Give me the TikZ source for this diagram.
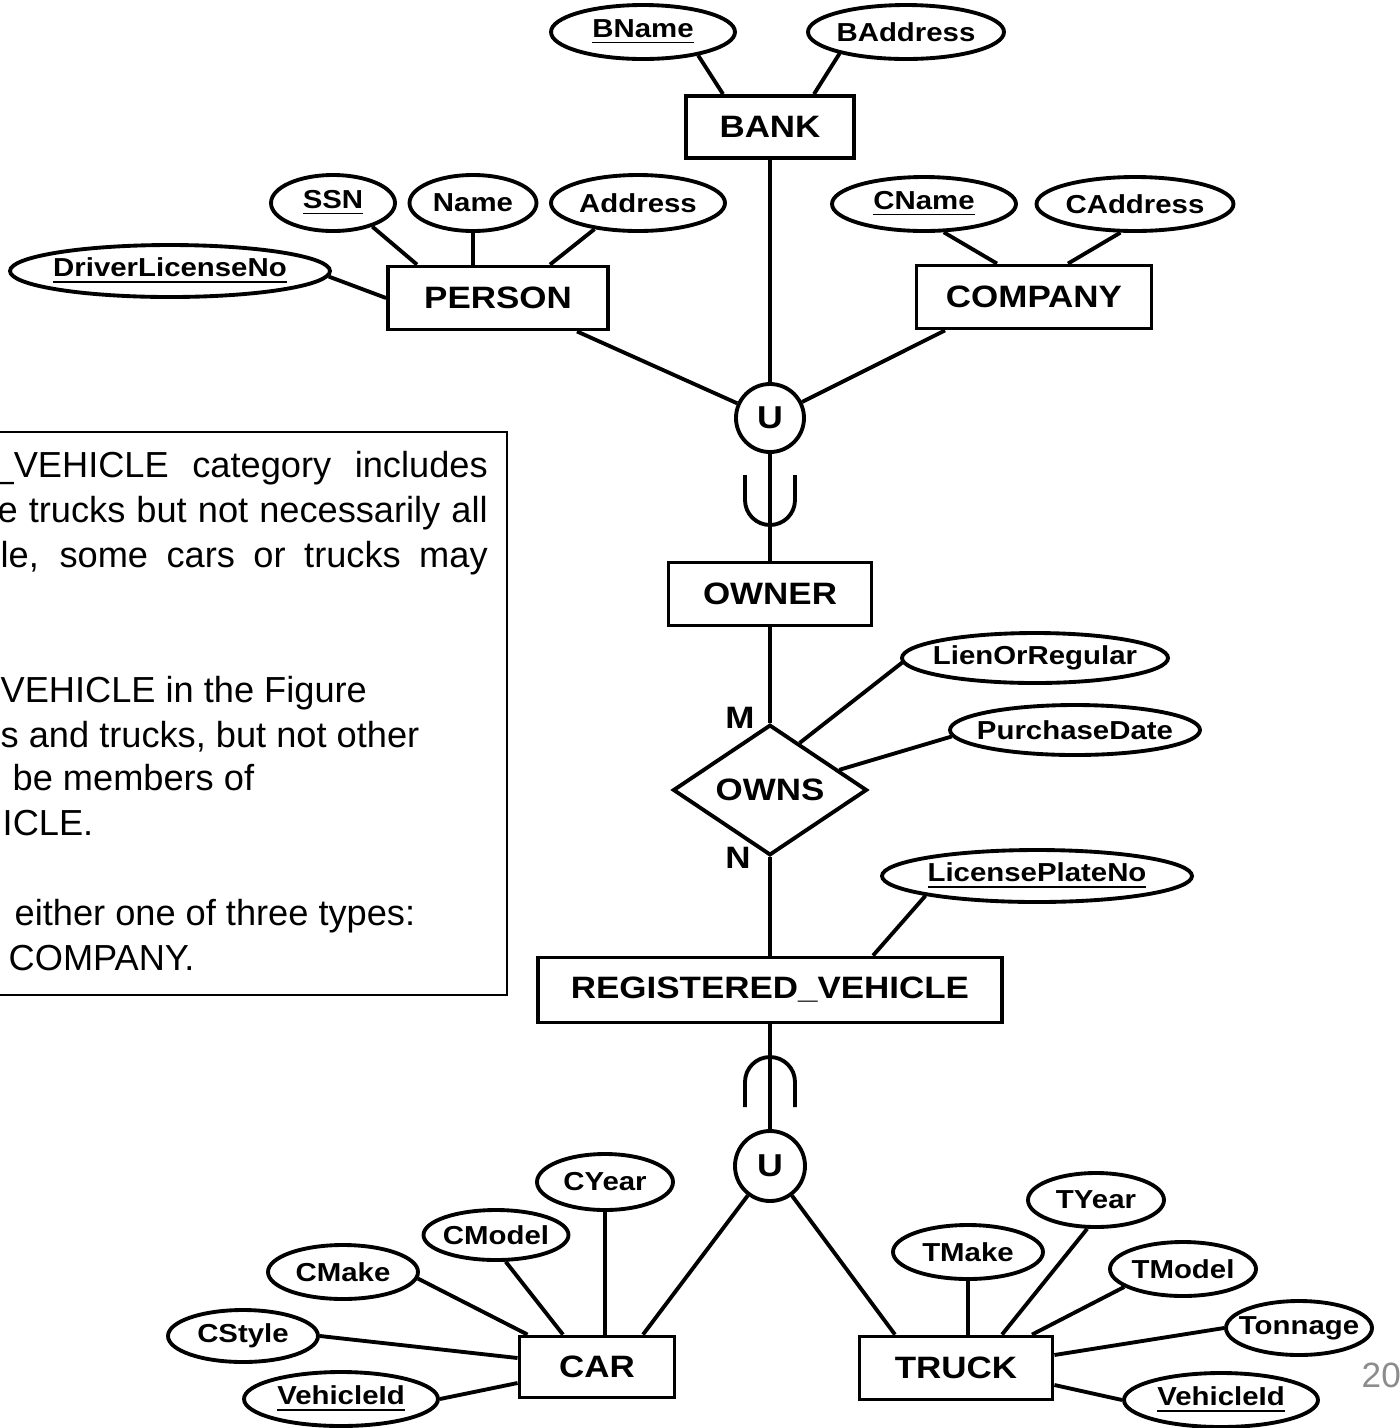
\documentclass[tikz,border=0pt]{standalone}
\usepackage{fontspec}
\setmainfont{Liberation Sans}
\newfontfamily\erfont[FakeStretch=1.13]{Liberation Sans}
\usetikzlibrary{shapes.geometric, calc}

\begin{document}
\begin{tikzpicture}[
    entity/.style = {draw, rectangle, line width = 1.1pt, inner sep = 0pt, font = \erfont\bfseries\fontsize{8.8}{10}\selectfont},
    attrib/.style = {draw, ellipse, line width = 1.1pt, inner xsep = -6pt, inner ysep = 0pt, minimum height = .54cm, font = \erfont\bfseries\fontsize{7.4}{8}\selectfont},
    relship/.style = {draw, diamond, line width = 1.1pt, inner sep = 0pt, font = \erfont\bfseries\fontsize{8.8}{10}\selectfont},
    unionc/.style = {draw, circle, line width = 1.1pt, inner sep = 0pt, minimum size = .68cm, font = \erfont\bfseries\fontsize{9}{10}\selectfont},
    card/.style = {inner sep = 0pt, font = \erfont\bfseries\fontsize{8.8}{10}\selectfont},
    link/.style = {line width = 1.1pt},
    note/.style = {inner sep = 0pt, anchor = base west, font = \fontsize{10.3}{12}\selectfont}
]
    \useasboundingbox (0, 0) rectangle (13.99, -14.28);
    \clip (0, 0) rectangle (13.99, -14.28);

    % bank
    \node [entity, minimum width = 1.68cm, minimum height = .62cm] (bank) at (7.70, -1.27) {BANK};
    \node [attrib, minimum width = 1.84cm] (bname) at (6.43, -.32) {\underline{BName}};
    \node [attrib, minimum width = 1.96cm] (baddress) at (9.06, -.32) {BAddress};
    \draw [link] (bname.-23)  --  ([xshift = -.47cm]bank.north);
    \draw [link] (baddress.198)  --  ([xshift = .44cm]bank.north);

    % person
    \node [entity, minimum width = 2.20cm, minimum height = .63cm] (person) at (4.98, -2.98) {PERSON};
    \node [attrib, minimum width = 1.24cm, minimum height = .56cm] (ssn) at (3.33, -2.03) {\underline{SSN}};
    \node [attrib, minimum width = 1.27cm, minimum height = .56cm] (pname) at (4.73, -2.03) {Name};
    \node [attrib, minimum width = 1.74cm, minimum height = .56cm] (paddress) at (6.38, -2.03) {Address};
    \node [attrib, minimum width = 3.20cm, minimum height = .52cm] (dlno) at (1.70, -2.71) {\underline{DriverLicenseNo}};
    \draw [link] (ssn.-31)  --  ([xshift = -.81cm]person.north);
    \draw [link] (pname.south)  --  (pname.south |- person.north);
    \draw [link] (paddress.211)  --  ([xshift = .52cm]person.north);
    \draw [link] (dlno.-2)  --  (person.west);

    % company
    \node [entity, minimum width = 2.35cm, minimum height = .63cm] (company) at (10.34, -2.97) {COMPANY};
    \node [attrib, minimum width = 1.84cm] (cname) at (9.24, -2.04) {\underline{CName}};
    \node [attrib, minimum width = 1.97cm] (caddress) at (11.35, -2.04) {CAddress};
    \draw [link] (cname.-55)  --  ([xshift = -.37cm]company.north);
    \draw [link] (caddress.243)  --  ([xshift = .34cm]company.north);

    % union of the owners
    \node [unionc] (uowner) at (7.70, -4.18) {U};
    \draw [link] (bank)  --  (uowner);
    \draw [link] ([xshift = .79cm]person.south)  --  (uowner);
    \draw [link] ([xshift = -.89cm]company.south)  --  (uowner);

    \node [entity, minimum width = 2.03cm, minimum height = .63cm] (owner) at (7.70, -5.94) {OWNER};
    \draw [link] (uowner)  --  (owner);
    \draw [link] (7.45, -4.75)  --  (7.45, -5.00) arc [start angle = 180, end angle = 360, radius = .25cm]  --  (7.95, -4.75);

    % owns
    \node [relship, minimum width = 1.94cm, minimum height = 1.06cm] (owns) at (7.70, -7.90) {OWNS};
    \node [card] (mcard) at (7.40, -7.18) {M};
    \node [card] (ncard) at (7.38, -8.58) {N};
    \draw [link] (owner)  --  (owns);
    \node [attrib, minimum width = 2.66cm, minimum height = .50cm] (lien) at (10.35, -6.58) {LienOrRegular};
    \node [attrib, minimum width = 2.50cm, minimum height = .50cm] (pdate) at (10.75, -7.30) {PurchaseDate};
    \draw [link] (lien.182)  --  ($(owns.north)!.3!(owns.east)$);
    \draw [link] (pdate.183)  --  ($(owns.north)!.7!(owns.east)$);

    % registered vehicle
    \node [entity, minimum width = 4.64cm, minimum height = .65cm] (regveh) at (7.70, -9.90) {REGISTERED\_VEHICLE};
    \node [attrib, minimum width = 3.10cm, minimum height = .52cm] (plate) at (10.37, -8.76) {\underline{LicensePlateNo}};
    \draw [link] (owns)  --  (regveh);
    \draw [link] (plate.190)  --  ([xshift = 1.03cm]regveh.north);

    \node [unionc, minimum size = .70cm] (uveh) at (7.70, -11.66) {U};
    \draw [link] (regveh)  --  (uveh);
    \draw [link] (7.45, -11.07)  --  (7.45, -10.82) arc [start angle = 180, end angle = 0, radius = .25cm]  --  (7.95, -11.07);

    % car
    \node [entity, minimum width = 1.55cm, minimum height = .61cm] (car) at (5.97, -13.67) {CAR};
    \node [attrib, minimum width = 1.36cm, minimum height = .56cm] (cyear) at (6.05, -11.82) {CYear};
    \node [attrib, minimum width = 1.45cm, minimum height = .50cm] (cmodel) at (4.96, -12.35) {CModel};
    \node [attrib, minimum width = 1.50cm] (cmake) at (3.43, -12.72) {CMake};
    \node [attrib, minimum width = 1.50cm, minimum height = .52cm] (cstyle) at (2.43, -13.36) {CStyle};
    \node [attrib, minimum width = 1.94cm] (cvid) at (3.41, -13.99) {\underline{VehicleId}};
    \draw [link] (uveh)  --  ([xshift = .46cm]car.north);
    \draw [link] (cyear.south)  --  (cyear.south |- car.north);
    \draw [link] (cmodel.-70)  --  ([xshift = -.34cm]car.north);
    \draw [link] (cmake.-5)  --  ([xshift = .1cm]car.north west);
    \draw [link] (cstyle.east)  --  ([yshift = .09cm]car.west);
    \draw [link] (cvid.east)  --  ([yshift = -.16cm]car.west);

    % truck
    \node [entity, minimum width = 1.93cm, minimum height = .63cm] (truck) at (9.56, -13.68) {TRUCK};
    \node [attrib, minimum width = 1.36cm] (tyear) at (10.96, -12.00) {TYear};
    \node [attrib, minimum width = 1.50cm] (tmake) at (9.68, -12.52) {TMake};
    \node [attrib, minimum width = 1.46cm] (tmodel) at (11.83, -12.69) {TModel};
    \node [attrib, minimum width = 1.46cm] (tonnage) at (12.99, -13.28) {Tonnage};
    \node [attrib, minimum width = 1.94cm] (tvid) at (12.21, -14.00) {\underline{VehicleId}};
    \draw [link] (uveh)  --  ([xshift = -.61cm]truck.north);
    \draw [link] (tmake.south)  --  (tmake.south |- truck.north);
    \draw [link] (tyear.253)  --  ([xshift = .46cm]truck.north);
    \draw [link] (tmodel.197)  --  ([xshift = .76cm]truck.north);
    \draw [link] (tonnage.west)  --  ([yshift = .13cm]truck.east);
    \draw [link] (tvid.west)  --  ([yshift = -.17cm]truck.east);

    \node [anchor = west, inner sep = 0pt, text = black!45, font = \fontsize{10}{12}\selectfont] (slideno) at (13.61, -13.75) {20};

    % note box
    \draw [line width = .7pt] (-.2, -4.32) rectangle (5.07, -9.95);
    \node [note] (notea) at (-.07, -4.77) {\makebox[4.94cm][s]{\_VEHICLE category includes}};
    \node [note] (noteb) at (-.03, -5.22) {\makebox[4.90cm][s]{e trucks but not necessarily all}};
    \node [note] (notec) at (0, -5.67) {\makebox[4.87cm][s]{le, some cars or trucks may}};
    \node [note] (noted) at (0, -7.02) {VEHICLE in the Figure};
    \node [note] (notee) at (0, -7.47) {s and trucks, but not other};
    \node [note] (notef) at (.12, -7.90) {be members of};
    \node [note] (noteg) at (.02, -8.35) {ICLE.};
    \node [note] (noteh) at (.14, -9.25) {either one of three types:};
    \node [note] (notei) at (.08, -9.70) {COMPANY.};

\end{tikzpicture}
\end{document}
